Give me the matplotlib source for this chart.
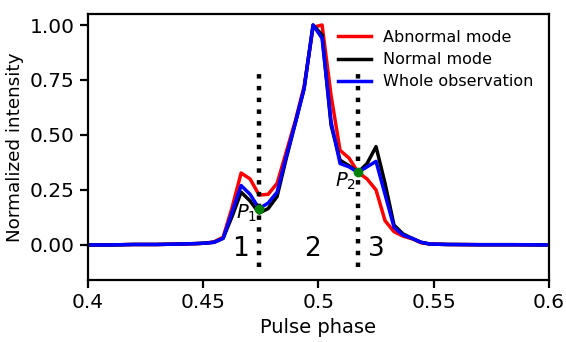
import matplotlib
matplotlib.use('Agg')
import matplotlib.pyplot as plt
from matplotlib.ticker import FormatStrFormatter

# pulse phase bins
phase = [0.400, 0.410, 0.420, 0.430, 0.440, 0.4470, 0.4509, 0.4548, 0.4587, 0.4626,
         0.4665, 0.4704, 0.4743, 0.4782, 0.4821, 0.4860, 0.4899, 0.4938, 0.4977, 0.5016,
         0.5055, 0.5094, 0.5133, 0.5172, 0.5211, 0.5250, 0.5289, 0.5328, 0.5367, 0.5406,
         0.5445, 0.5484, 0.556, 0.570, 0.585, 0.600]

abnormal = [0.000, 0.000, 0.002, 0.002, 0.004, 0.006, 0.008, 0.014, 0.035, 0.17,
            0.327, 0.30, 0.227, 0.23, 0.28, 0.42, 0.56, 0.72, 0.99, 1.00,
            0.68, 0.43, 0.395, 0.33, 0.30, 0.25, 0.11, 0.06, 0.04, 0.028,
            0.010, 0.004, 0.002, 0.001, 0.001, 0.000]

normal = [0.000, 0.000, 0.002, 0.002, 0.004, 0.006, 0.008, 0.012, 0.03, 0.13,
          0.24, 0.20, 0.145, 0.165, 0.22, 0.39, 0.55, 0.71, 1.00, 0.955,
          0.545, 0.385, 0.36, 0.33, 0.37, 0.447, 0.28, 0.09, 0.05, 0.03,
          0.012, 0.004, 0.002, 0.001, 0.001, 0.000]

whole = [0.000, 0.000, 0.002, 0.002, 0.004, 0.006, 0.008, 0.012, 0.03, 0.15,
         0.27, 0.23, 0.165, 0.19, 0.24, 0.40, 0.55, 0.71, 1.00, 0.94,
         0.56, 0.37, 0.355, 0.33, 0.355, 0.38, 0.23, 0.08, 0.045, 0.03,
         0.012, 0.004, 0.002, 0.001, 0.001, 0.000]

# component boundaries P1, P2
p_phase = [0.4743, 0.5172]
p_value = [0.165, 0.33]
region_labels = ['1', '2', '3']
region_x = [0.4661, 0.4974, 0.5250]

fig, ax = plt.subplots(figsize=(5.66, 3.42), dpi=100)
fig.subplots_adjust(left=0.155, right=0.970, top=0.959, bottom=0.181)

ax.plot(phase, abnormal, '-', c='red', lw=2.5, label='Abnormal mode')
ax.plot(phase, normal, '-', c='black', lw=2.5, label='Normal mode')
ax.plot(phase, whole, '-', c='blue', lw=2.5, label='Whole observation')

for xp in p_phase:
    ax.plot([xp, xp], [-0.10, 0.80], ':', c='black', lw=3.2)
ax.plot(p_phase, p_value, 'o', c='green', markersize=6, zorder=5)

ax.text(p_phase[0] - 0.0010, p_value[0] - 0.02, '$P_1$', fontsize=14, ha='right', va='center')
ax.text(p_phase[1] - 0.0010, p_value[1] - 0.04, '$P_2$', fontsize=14, ha='right', va='center')
for lab, xr in zip(region_labels, region_x):
    ax.text(xr, -0.02, lab, fontsize=19, ha='center', va='center')

ax.set_xlim(0.4, 0.6)
ax.set_ylim(-0.16, 1.05)
ax.set_xticks([0.4, 0.45, 0.5, 0.55, 0.6])
ax.set_xticklabels(['0.4', '0.45', '0.5', '0.55', '0.6'])
ax.set_yticks([0.0, 0.25, 0.5, 0.75, 1.0])
ax.yaxis.set_major_formatter(FormatStrFormatter('%.2f'))
ax.tick_params(labelsize=14.5, width=1.6, length=6)
for s in ax.spines.values():
    s.set_linewidth(1.6)

ax.set_xlabel('Pulse phase', fontsize=14)
ax.set_ylabel('Normalized intensity', fontsize=13.2)
ax.legend(loc='upper right', frameon=False, fontsize=11.5, handlelength=2.1,
          handletextpad=0.7, labelspacing=0.45, borderaxespad=0.6)

fig.savefig('out.png', dpi=100)
